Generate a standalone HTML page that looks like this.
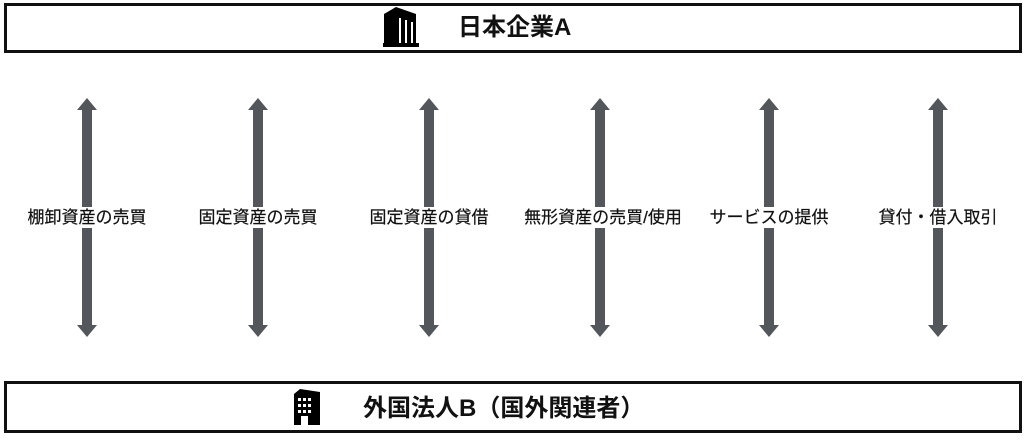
<!DOCTYPE html>
<html><head><meta charset="utf-8"><style>
html,body{margin:0;padding:0;background:#fff;}
body{width:1024px;height:440px;overflow:hidden;position:relative;font-family:"Liberation Sans","Noto Sans CJK JP",sans-serif;}
.box{position:absolute;left:4px;width:1012px;border:3px solid #111;background:#fff;}
.t{position:absolute;font-weight:bold;font-size:24px;color:#111;white-space:nowrap;line-height:24px;}
.lb{position:absolute;top:207px;font-size:17px;color:#111;white-space:nowrap;line-height:21px;transform:translateX(-50%);background:#fff;-webkit-text-stroke:0.2px #111;}
</style></head><body>
<div class="box" style="top:3px;height:44px;"></div>
<div class="box" style="top:381px;height:46px;"></div>
<svg width="1024" height="440" style="position:absolute;left:0;top:0">
<defs>
<g id="a" fill="#53565a"><polygon points="0,98 10,110 5,110 5,207 -5,207 -5,110 -10,110"/><polygon points="0,337 10,325 5,325 5,228 -5,228 -5,325 -10,325"/></g>
</defs>
<use href="#a" x="87"/><use href="#a" x="258"/><use href="#a" x="429"/><use href="#a" x="600"/><use href="#a" x="769"/><use href="#a" x="938"/>
<!-- top icon -->
<g fill="#000">
<polygon points="384,14 396,7 416,14 416,46 384,46"/>
<rect x="383" y="43" width="36" height="4"/>
</g>
<g fill="#fff"><rect x="399" y="18" width="2" height="25"/><rect x="405" y="20" width="2" height="23"/><rect x="411" y="22" width="2" height="21"/></g>
<!-- bottom icon -->
<rect x="294" y="394" width="26" height="31" fill="#000"/>
<polygon points="294,394 300,389 320,392 320,394" fill="#000"/>
<g fill="#fff">
<rect x="298" y="398" width="3" height="3"/><rect x="303" y="398" width="3" height="3"/><rect x="308" y="398" width="3" height="3"/>
<rect x="298" y="404" width="3" height="3"/><rect x="303" y="404" width="3" height="3"/><rect x="308" y="404" width="3" height="3"/>
<rect x="298" y="410" width="3" height="3"/><rect x="303" y="410" width="3" height="3"/><rect x="308" y="410" width="3" height="3"/>
<rect x="301" y="416" width="7" height="9"/>
</g>
</svg>
<div class="t" style="left:458px;top:16px;">日本企業A</div>
<div class="t" style="left:363px;top:397px;">外国法人B（国外関連者）</div>
<div class="lb" style="left:87px;">棚卸資産の売買</div>
<div class="lb" style="left:258px;">固定資産の売買</div>
<div class="lb" style="left:429px;">固定資産の貸借</div>
<div class="lb" style="left:603px;">無形資産の売買/使用</div>
<div class="lb" style="left:769px;">サービスの提供</div>
<div class="lb" style="left:938px;">貸付・借入取引</div>
</body></html>
